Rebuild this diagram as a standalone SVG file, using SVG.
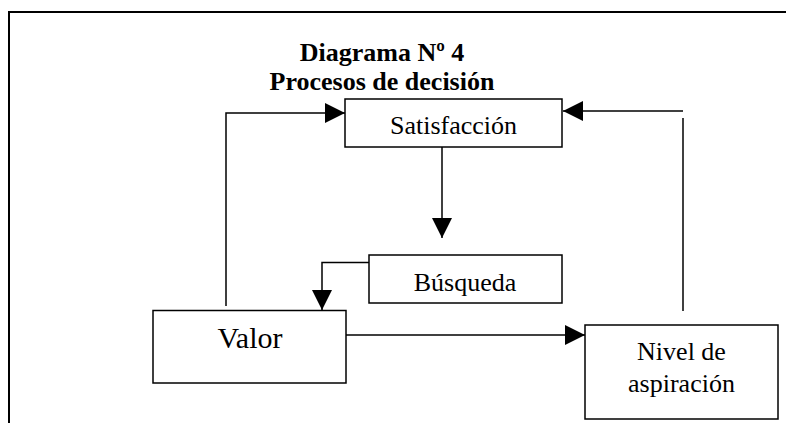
<svg xmlns="http://www.w3.org/2000/svg" width="786" height="423" viewBox="0 0 786 423">
  <style>
    .box { fill: #ffffff; stroke: #000000; stroke-width: 1.5; }
    .lbl { font-family: "Liberation Serif", "Times New Roman", serif; font-size: 26px; fill: #000000; text-anchor: middle; }
    .title { font-family: "Liberation Serif", "Times New Roman", serif; font-size: 26px; font-weight: bold; fill: #000000; text-anchor: middle; }
    .conn { fill: none; stroke: #000000; stroke-width: 1.5; }
    .frame { fill: none; stroke: #000000; stroke-width: 2; }
  </style>
  <defs>
    <marker id="arrow" viewBox="0 0 20 20" refX="20" refY="10" markerWidth="20" markerHeight="20" markerUnits="userSpaceOnUse" orient="auto">
      <path d="M0,0 L20,10 L0,20 Z" fill="#000000"/>
    </marker>
  </defs>
  <rect width="786" height="423" fill="#ffffff"/>
  <g id="frame">
    <path class="frame" d="M9,423 L9,12 L786,12"/>
  </g>
  <g id="title">
    <text class="title" x="382" y="60.5">Diagrama Nº 4</text>
    <text class="title" x="382" y="89.5">Procesos de decisión</text>
  </g>
  <g id="connectors">
    <path class="conn" d="M226,306 L226,113 L345,113" marker-end="url(#arrow)"/>
    <path class="conn" d="M683,111 L563,111" marker-end="url(#arrow)"/>
    <path class="conn" d="M683,118 L683,311"/>
    <path class="conn" d="M442,143 L442,238" marker-end="url(#arrow)"/>
    <path class="conn" d="M369,262.5 L322,262.5 L322,310" marker-end="url(#arrow)"/>
    <path class="conn" d="M346,335 L585,335" marker-end="url(#arrow)"/>
  </g>
  <g id="node-satisfaccion">
    <rect class="box" x="345" y="99" width="217" height="48"/>
    <text class="lbl" x="453.5" y="133.5">Satisfacción</text>
  </g>
  <g id="node-busqueda">
    <rect class="box" x="369" y="255" width="193" height="48"/>
    <text class="lbl" x="465" y="290.7">Búsqueda</text>
  </g>
  <g id="node-valor">
    <rect class="box" x="153" y="310.5" width="193" height="72.5"/>
    <text class="lbl" x="250" y="348" style="font-size:30px">Valor</text>
  </g>
  <g id="node-nivel">
    <rect class="box" x="585" y="325" width="193" height="94"/>
    <text class="lbl" x="681.5" y="360">Nivel de</text>
    <text class="lbl" x="681.5" y="391.5">aspiración</text>
  </g>
</svg>
